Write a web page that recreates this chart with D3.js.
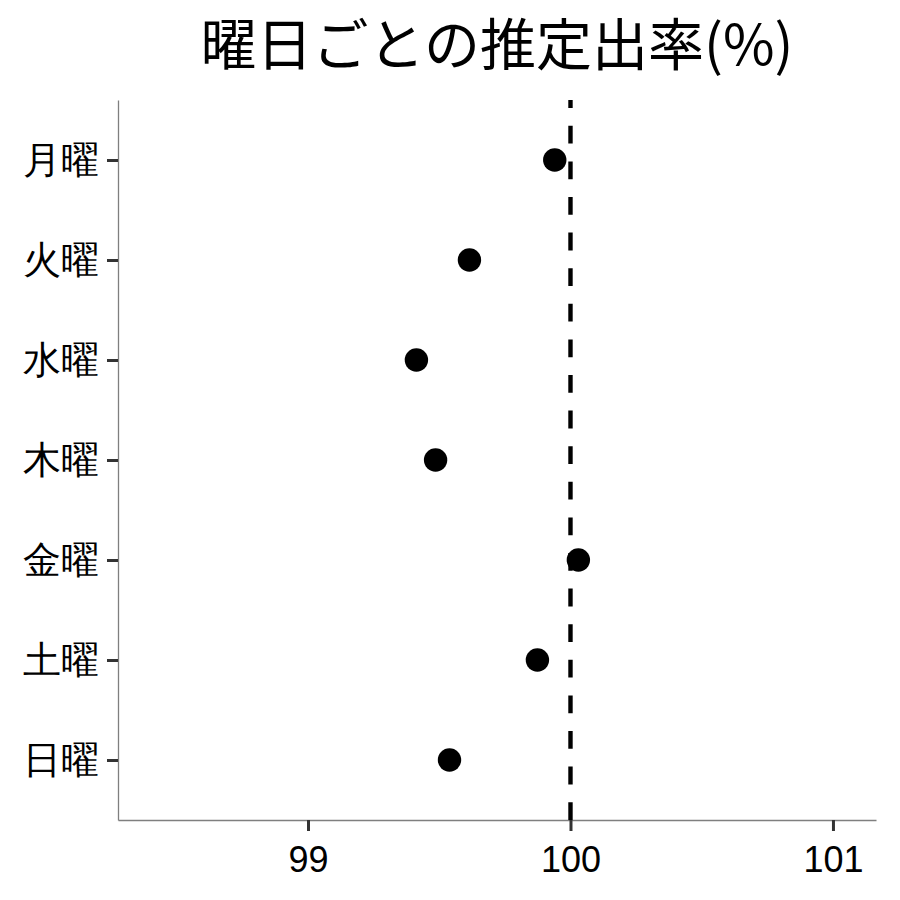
<!DOCTYPE html>
<html>
<head>
  <meta charset="utf-8">
  <title>曜日ごとの推定出率</title>
  <style>
    html, body {
      margin: 0;
      padding: 0;
      background: #fff;
    }
    svg {
      display: block;
      font-family: "Noto Sans CJK JP", "Noto Sans", sans-serif;
    }
    .tick-label {
      fill: #000;
    }
  </style>
</head>
<body>
  <svg id="chart" width="900" height="900"></svg>

  <script src="https://d3js.org/d3.v7.min.js"></script>
  <script>
    // 曜日ごとの推定値
    const days = ["月曜", "火曜", "水曜", "木曜", "金曜", "土曜", "日曜"];
    const rates = [99.94, 99.615, 99.413, 99.486, 100.03, 99.874, 99.539];
    const xTicks = [99, 100, 101];
    const refValue = 100;

    const svg = d3.select("#chart");
    const margin = { top: 100, right: 24, bottom: 80, left: 118 };
    const width = 900, height = 900;

    const x = d3.scaleLinear()
      .domain([98.276, 101.164])
      .range([margin.left, width - margin.right]);

    // discrete scale with 0.6 expansion on each side
    const y = d3.scalePoint()
      .domain(days)
      .range([margin.top, height - margin.bottom])
      .padding(0.6);

    // title
    svg.append("text")
      .attr("x", (margin.left + width - margin.right) / 2)
      .attr("y", 65)
      .attr("text-anchor", "middle")
      .style("font-size", "56px")
      .text("曜日ごとの推定出率(%)");

    // axes
    const xAxis = svg.append("g")
      .attr("transform", `translate(0,${height - margin.bottom})`)
      .call(d3.axisBottom(x).tickValues(xTicks).tickSizeInner(11).tickSizeOuter(0)
        .tickPadding(10).tickFormat(d3.format("d")));
    const yAxis = svg.append("g")
      .attr("transform", `translate(${margin.left},0)`)
      .call(d3.axisLeft(y).tickSizeInner(11).tickSizeOuter(0).tickPadding(8));

    [xAxis, yAxis].forEach(g => {
      g.select(".domain").attr("stroke", "#7f7f7f").attr("stroke-width", 1.3);
      g.selectAll(".tick line").attr("stroke", "#333").attr("stroke-width", 3);
      g.selectAll(".tick text").attr("class", "tick-label").attr("font-family", null);
    });
    xAxis.selectAll(".tick text").attr("font-size", 36).attr("dy", "0.85em");
    yAxis.selectAll(".tick text").attr("font-size", 38).attr("dy", "0.34em");

    // reference line, dashed, drawn from the bottom up
    svg.append("line")
      .attr("x1", x(refValue)).attr("x2", x(refValue))
      .attr("y1", height - margin.bottom).attr("y2", margin.top)
      .attr("stroke", "#000")
      .attr("stroke-width", 4.4)
      .attr("stroke-dasharray", "17.8,17.8");

    // points
    svg.append("g")
      .selectAll("circle")
      .data(days.map((d, i) => ({ day: d, value: rates[i] })))
      .enter()
      .append("circle")
      .attr("cx", d => x(d.value))
      .attr("cy", d => y(d.day))
      .attr("r", 11.7)
      .attr("fill", "#000");
  </script>
</body>
</html>
